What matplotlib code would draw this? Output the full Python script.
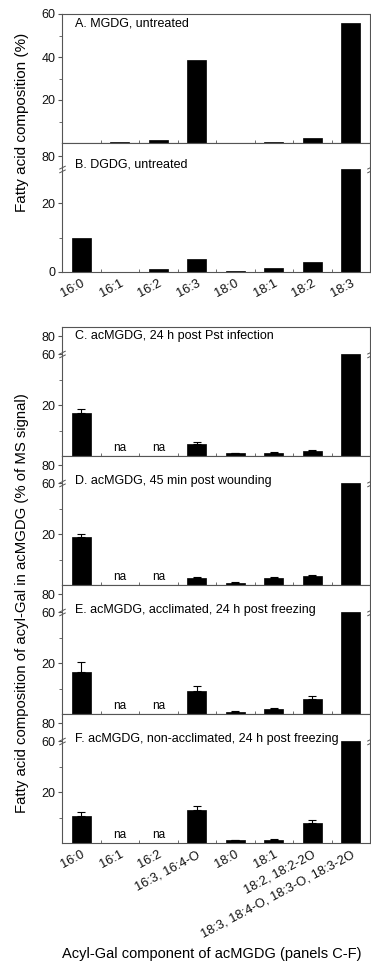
import numpy as np
import matplotlib; matplotlib.use('Agg'); import matplotlib.pyplot as plt
from matplotlib.path import Path
from matplotlib.ticker import FixedLocator

plt.rcParams.update({'font.family':'Liberation Sans','font.size':9,
                     'axes.edgecolor':'#555555','axes.linewidth':0.8,
                     'xtick.color':'#555555','ytick.color':'#555555',
                     'xtick.labelcolor':'#111111','ytick.labelcolor':'#111111'})

# ---- data ----
fa_cat = ['16:0','16:1','16:2','16:3','18:0','18:1','18:2','18:3']
ac_cat = ['16:0','16:1','16:2','16:3, 16:4-O','18:0','18:1','18:2, 18:2-2O',
          '18:3, 18:4-O, 18:3-O, 18:3-2O']
mgdg = [0.1, 0.4, 1.6, 38.8, 0.1, 0.4, 2.3, 55.8]
dgdg = [10.0, 0.0, 0.9, 3.9, 0.3, 1.1, 2.9, 70.0]
na = np.nan
ac_pst      = [17.0, na, na, 4.8, 1.0, 1.2, 1.8, 60.0]
ac_pst_err  = [1.3, na, na, 0.6, 0.2, 0.4, 0.4, na]
ac_wound    = [18.8, na, na, 2.7, 0.9, 2.6, 3.5, 60.0]
ac_wound_err= [1.2, na, na, 0.5, 0.1, 0.4, 0.3, na]
ac_accl     = [16.5, na, na, 9.2, 0.9, 1.9, 5.8, 60.0]
ac_accl_err = [3.9, na, na, 1.7, 0.1, 0.6, 1.4, na]
ac_nonac    = [10.6, na, na, 12.8, 1.2, 1.2, 7.9, 60.0]
ac_nonac_err= [1.4, na, na, 1.8, 0.1, 0.3, 1.1, na]

def broken(lo, hi, k, top=90):
    xp = [0, lo, hi, top]; fp = [0, lo, lo+1e-6, lo+(top-hi)*k]
    fwd = lambda v: np.interp(np.asarray(v, float), xp, fp)
    inv = lambda u: np.interp(np.asarray(u, float), fp, xp)
    return fwd, inv

W, H = 371, 965
fig = plt.figure(figsize=(W/100, H/100), dpi=100)
x0, x1 = 62, 370
def mkax(top, bot):
    return fig.add_axes([x0/W, 1-bot/H, (x1-x0)/W, (bot-top)/H])

brk_path = Path([(-1.2,-1.3),(1.2,-0.1),(-1.2,0.1),(1.2,1.3)],
                [Path.MOVETO, Path.LINETO, Path.MOVETO, Path.LINETO])

panels = [
    # top, bottom, values, err, title, title_y, yscale, majors, minors, xlabels
    (14, 143, mgdg, None, 'A. MGDG, untreated', 0.93, None, [20,40,60], [10,30,50], None),
    (143, 272, dgdg, None, 'B. DGDG, untreated', 0.83, (30,70,0.379), [0,20,80], [10], fa_cat),
    (327, 456, ac_pst, ac_pst_err, 'C. acMGDG, 24 h post Pst infection', 0.93, (40,60,0.353), [20,60,80], [10,30], None),
    (456, 585, ac_wound, ac_wound_err, 'D. acMGDG, 45 min post wounding', 0.806, (40,60,0.353), [20,60,80], [10,30], None),
    (585, 714, ac_accl, ac_accl_err, 'E. acMGDG, acclimated, 24 h post freezing', 0.806, (40,60,0.353), [20,60,80], [10,30], None),
    (714, 843, ac_nonac, ac_nonac_err, 'F. acMGDG, non-acclimated, 24 h post freezing', 0.806, (40,60,0.353), [20,60,80], [10,30], ac_cat),
]

xs = np.arange(8)
for top, bot, vals, err, title, ty, sc, majors, minors, xl in panels:
    ax = mkax(top, bot)
    vals = np.array(vals, float)
    if sc is None:
        ax.set_ylim(0, 60)
    else:
        ax.set_yscale('function', functions=broken(*sc))
        ax.set_ylim(0, 90)
    ok = ~np.isnan(vals)
    ax.bar(xs[ok], vals[ok], width=0.5, color='black', edgecolor='black', lw=0.5)
    if err is not None:
        e = np.array(err, float); m = ~np.isnan(e)
        ax.errorbar(xs[m], vals[m], yerr=[np.zeros(m.sum()), e[m]], fmt='none',
                    ecolor='black', elinewidth=0.8, capsize=3, capthick=0.8)
        for i in xs[~ok]:
            ax.text(i, 0.6, 'na', ha='center', va='bottom', fontsize=8.5)
    ax.set_xlim(-0.5, 7.5)
    ax.yaxis.set_major_locator(FixedLocator(majors))
    ax.yaxis.set_minor_locator(FixedLocator(minors))
    ax.set_yticklabels([str(v) for v in majors])
    ax.tick_params(axis='y', which='major', direction='out', length=3, pad=1.5)
    ax.tick_params(axis='y', which='minor', direction='out', length=2)
    ax.xaxis.set_major_locator(FixedLocator(list(xs)))
    ax.xaxis.set_minor_locator(FixedLocator(list(xs[:-1]+0.5)))
    ax.tick_params(axis='x', which='major', length=0, pad=4)
    ax.tick_params(axis='x', which='minor', direction='in', length=2.5)
    if xl is None:
        ax.set_xticklabels([])
    else:
        ax.set_xticklabels(xl, rotation=28, ha='right', va='top', rotation_mode='anchor',
                           fontsize=9.3)
    ax.text(0.042, ty, title, transform=ax.transAxes, va='center', fontsize=9)
    if sc is not None:
        ax.plot([0, 1], [sc[0], sc[0]], ls='none', marker=brk_path, ms=5, mec='#555555',
                mew=0.7, transform=ax.get_yaxis_transform(), clip_on=False)

fig.text(22/W, 1-122/H, 'Fatty acid composition (%)', rotation=90, ha='center', va='center', fontsize=11)
fig.text(22/W, 1-603/H, 'Fatty acid composition of acyl-Gal in acMGDG (% of MS signal)',
         rotation=90, ha='center', va='center', fontsize=10.7)
fig.text(212/W, 1-954/H, 'Acyl-Gal component of acMGDG (panels C-F)', ha='center', va='center', fontsize=10.5)

fig.savefig('out.png', dpi=100)
